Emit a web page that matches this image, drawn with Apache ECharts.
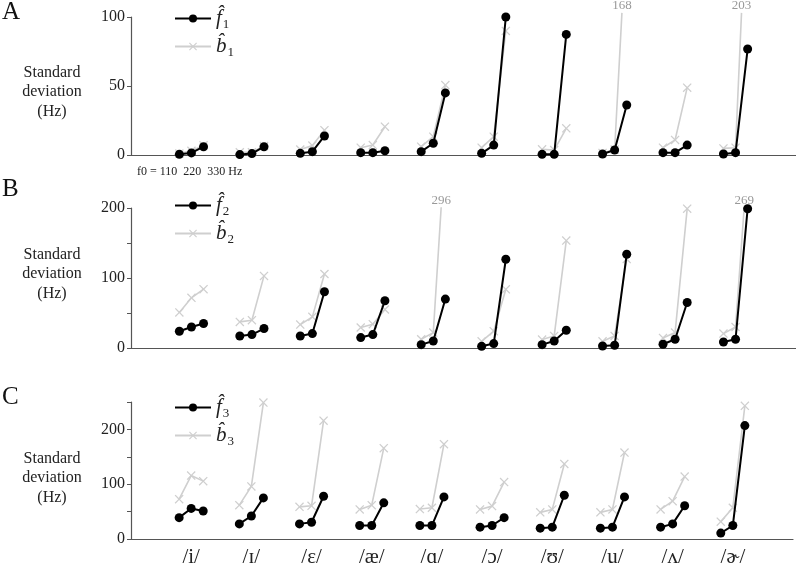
<!DOCTYPE html>
<html>
<head>
<meta charset="utf-8">
<script src="https://cdn.jsdelivr.net/npm/echarts@6/dist/echarts.min.js"></script>
<style>html,body{margin:0;padding:0;background:#fff}#chart{width:796px;height:571px}</style>
</head>
<body>
<div id="chart"></div>
<script>
// vowel categories and the three f0 conditions
var vowels = ['/i/', '/ɪ/', '/ɛ/', '/æ/', '/ɑ/', '/ɔ/', '/ʊ/', '/u/', '/ʌ/', '/ɚ/'];
var f0Labels = ['110', '220', '330'];

// standard deviation (Hz) per vowel at f0 = 110, 220, 330
var f1 = [[0.5,1.5,6],[0.3,1,6],[1.2,2.4,13.8],[1.7,1.7,3.1],[2.4,8.5,45],[1.2,7.2,100],[0.5,0.5,87.4],[0.7,3.6,36.2],[1.7,1.7,7.2],[0.7,1.7,76.8]];
var b1 = [[1,3,7],[2,2,6.5],[4,6.8,18],[5.3,7.2,20.5],[6,13.3,50.7],[5.3,13.3,89.9],[4.1,3.6,19.3],[1.5,4,168],[5.3,10.9,48.8],[4.8,5.3,203]];
var f2 = [[24,30,35],[17.2,19.2,27.8],[17.2,20.6,80.4],[14.9,19.2,67.5],[4.8,10,69.9],[2.4,6.3,126.8],[4.8,10,25.4],[2.9,3.9,134],[5.3,12.5,65],[8.6,12.5,199]];
var b2 = [[50.8,71.7,84],[37.3,39.7,103],[33.5,44.5,105.7],[29.3,34,55],[12.5,22,296],[9.6,24,83.8],[12,17.2,153.5],[9.6,17.2,127],[14.4,22,199],[20.6,30,269]];
var f3 = [[39,55.8,51],[27.6,42,75],[27.6,30.6,78],[24.6,24.6,66],[24.6,24.6,76.8],[21.6,24.6,39],[19.8,21.6,79.8],[19.8,21.6,76.8],[21.6,27.6,60.6],[10.8,24.6,207]];
var b3 = [[72.6,115.8,105.6],[61.8,96,249],[58.7,60.6,216],[54,61.8,165.8],[54.6,57,173],[54,60,103.8],[48.6,54,137],[48.6,54,157.8],[54,69,114],[31.7,57,243]];

var offsets = [-0.2, 0, 0.2];
var serif = 'Liberation Serif';
var grey = '#cfcfcf';
var xPath = 'path://M0,1 L1,0 L5,4 L9,0 L10,1 L6,5 L10,9 L9,10 L5,6 L1,10 L0,9 L4,5 Z';

var panels = [
    {f: f1, b: b1, fn: 'f1', bn: 'b1', max: 100, cap: 103, shown: [0, 50, 100], top: 17, height: 138, legendTop: 3},
    {f: f2, b: b2, fn: 'f2', bn: 'b2', max: 200, cap: 201, shown: [0, 100, 200], top: 208, height: 140, legendTop: 190},
    {f: f3, b: b3, fn: 'f3', bn: 'b3', max: 250, cap: 260, shown: [0, 100, 200], top: 402, height: 137, legendTop: 392}
];

function groupData(vals, g, cap) {
    var pts = [];
    for (var k = 0; k < 3; k++) {
        var x = g + 1 + offsets[k];
        var v = vals[k];
        if (v > cap && k > 0) {
            // value off the scale: stop the line at the cap, write the value
            var xp = g + 1 + offsets[k - 1], vp = vals[k - 1];
            var t = (cap - vp) / (v - vp);
            pts.push({
                value: [xp + t * (x - xp), cap],
                symbol: 'circle', symbolSize: 1,
                itemStyle: {color: 'rgba(0,0,0,0)'},
                label: {show: true, position: 'top', distance: 0, formatter: String(v),
                    color: '#999', fontSize: 13, fontFamily: serif}
            });
        } else {
            pts.push([x, v]);
        }
    }
    return pts;
}

var grids = [], xAxes = [], yAxes = [], legends = [], series = [];
panels.forEach(function (p, i) {
    grids.push({left: 131, width: 665, top: p.top, height: p.height});
    xAxes.push({
        type: 'value', gridIndex: i, min: 0, max: 11, interval: 1,
        axisLine: {lineStyle: {color: '#555', width: 1.2}},
        axisTick: {show: false}, splitLine: {show: false},
        axisLabel: {
            show: i === 2, margin: 8, fontSize: 21, fontFamily: serif, color: '#222',
            formatter: function (v) { return vowels[v - 1] || ''; }
        }
    });
    yAxes.push({
        type: 'value', gridIndex: i, min: 0, max: p.max, interval: 50,
        axisLine: {show: true, lineStyle: {color: '#555', width: 1.2}},
        axisTick: {show: true, length: 4, lineStyle: {color: '#555'}},
        splitLine: {show: false},
        axisLabel: {
            margin: 6, fontSize: 16, fontFamily: serif, color: '#222',
            formatter: function (v) { return p.shown.indexOf(v) >= 0 ? String(v) : ''; }
        }
    });
    legends.push({
        data: [p.fn, p.bn], orient: 'vertical', left: 169, top: p.legendTop,
        itemWidth: 36, itemHeight: 10, itemGap: 5,
        formatter: function (name) {
            return '{h|' + name.charAt(0) + '\u0302}{s|' + name.charAt(1) + '}';
        },
        textStyle: {
            rich: {
                h: {fontFamily: serif, fontStyle: 'italic', fontSize: 21, color: '#222'},
                s: {fontFamily: serif, fontSize: 13, color: '#222', padding: [12, 0, 0, 1]}
            }
        }
    });
    for (var g = 0; g < vowels.length; g++) {
        series.push({
            name: p.bn, type: 'line', xAxisIndex: i, yAxisIndex: i, clip: false, z: 2,
            data: groupData(p.b[g], g, p.cap),
            symbol: xPath, symbolSize: 9,
            itemStyle: {color: grey}, lineStyle: {color: grey, width: 1.6}
        });
        series.push({
            name: p.fn, type: 'line', xAxisIndex: i, yAxisIndex: i, clip: false, z: 3,
            data: groupData(p.f[g], g, p.cap),
            symbol: 'circle', symbolSize: 9,
            itemStyle: {color: '#000'}, lineStyle: {color: '#000', width: 2}
        });
    }
});

var graphics = [];
[['A', 13], ['B', 190], ['C', 398]].forEach(function (t) {
    graphics.push({type: 'text', left: 2, top: t[1] - 13,
        style: {text: t[0], font: '25px ' + serif, fill: '#111'}});
});
[92, 274, 478].forEach(function (y) {
    graphics.push({type: 'text', x: 52, y: y,
        style: {text: 'Standard\ndeviation\n(Hz)', font: '16px ' + serif, fill: '#222',
            align: 'center', verticalAlign: 'middle', lineHeight: 19.5}});
});
graphics.push({type: 'text', x: 137, y: 172,
    style: {text: 'f0 = ' + f0Labels.join('  ') + ' Hz', font: '12px ' + serif, fill: '#222',
        verticalAlign: 'middle'}});

var myChart = echarts.init(document.getElementById('chart'));
myChart.setOption({
    animation: false,
    grid: grids,
    xAxis: xAxes,
    yAxis: yAxes,
    legend: legends,
    graphic: graphics,
    series: series
});
</script>
</body>
</html>
